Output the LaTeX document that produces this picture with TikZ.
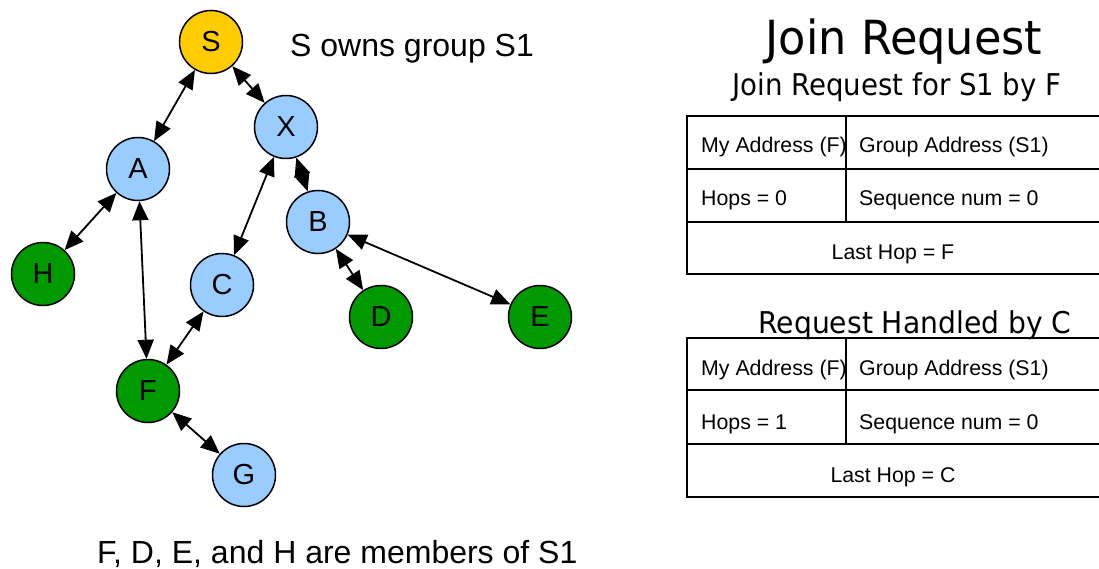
\documentclass[tikz,border=0pt]{standalone}
\usepackage{fontspec}
\setmainfont{Liberation Sans}
\newfontfamily\dejavu{DejaVu Sans}
\usetikzlibrary{arrows.meta}
\definecolor{syellow}{HTML}{FFCC00}
\definecolor{nblue}{HTML}{99CCFF}
\definecolor{ngreen}{HTML}{009900}
\tikzset{
  gnode/.style={circle, draw=black, line width=1.5pt, minimum size=63pt, inner sep=0pt,
    font=\fontsize{29}{33}\selectfont},
  owner/.style={gnode, fill=syellow},
  relay/.style={gnode, fill=nblue},
  member/.style={gnode, fill=ngreen},
  tip/.tip={Triangle[length=19pt,width=16pt]},
  link/.style={line width=1.8pt, tip-tip},
  cell/.style={line width=1.5pt},
  celltext/.style={anchor=base west, inner sep=0pt, font=\fontsize{21.3}{25}\selectfont},
  bigtext/.style={anchor=base west, inner sep=0pt, font=\fontsize{32}{38}\selectfont},
  title/.style={anchor=base, inner sep=0pt, font=\dejavu\fontsize{47}{54}\selectfont},
  subtitle/.style={anchor=base, inner sep=0pt, font=\dejavu\fontsize{30}{36}\selectfont},
}
\begin{document}
\begin{tikzpicture}[x=1pt,y=-1pt]
\useasboundingbox (0,0) rectangle (1099,569);
% nodes
\node[owner]  (S) at (211,42)  {S};
\node[relay]  (X) at (286,127) {X};
\node[relay]  (A) at (138,169) {A};
\node[relay]  (B) at (318,222) {B};
\node[member] (H) at (43,274)  {H};
\node[relay]  (C) at (222,285) {C};
\node[member] (D) at (381,317) {D};
\node[member] (E) at (540,317) {E};
\node[member] (F) at (148,391) {F};
\node[relay]  (G) at (244,475) {G};
% links
\draw[link] (S) -- (A);
\draw[link] (S) -- (X);
\draw[link] (X) -- (C);
\draw[link] (X) -- (B);
\draw[link] (A) -- (H);
\draw[link] (A) -- (F);
\draw[link] (C) -- (F);
\draw[link] (F) -- (G);
\draw[link] (B) -- (D);
\draw[link] (B) -- (E);
% texts
\node[bigtext] (owns) at (290,57) {S owns group S1};
\node[bigtext] (members) at (97,563) {F, D, E, and H are members of S1};
\node[title] (t1) at (904,55) {\scalebox{0.95}[1]{Join Request}};
\node[subtitle] (t2) at (897,96) {\scalebox{0.92}[1]{Join Request for S1 by F}};
\node[subtitle] (t3) at (915,333) {\scalebox{0.94}[1]{Request Handled by C}};
% table 1
\draw[cell] (687,116) rectangle (1102,274);
\draw[cell] (687,169) -- (1102,169);
\draw[cell] (687,222) -- (1102,222);
\draw[cell] (846,116) -- (846,222);
\node[celltext] (r1a) at (701,153) {My Address (F)};
\node[celltext] (r1b) at (859,153) {Group Address (S1)};
\node[celltext] (r1c) at (701,206) {Hops = 0};
\node[celltext] (r1d) at (859,206) {Sequence num = 0};
\node[celltext, anchor=base] (r1e) at (893,259) {Last Hop = F};
% table 2
\draw[cell] (687,338) rectangle (1102,497);
\draw[cell] (687,390) -- (1102,390);
\draw[cell] (687,444) -- (1102,444);
\draw[cell] (846,338) -- (846,444);
\node[celltext] (r2a) at (701,375) {My Address (F)};
\node[celltext] (r2b) at (859,375) {Group Address (S1)};
\node[celltext] (r2c) at (701,429) {Hops = 1};
\node[celltext] (r2d) at (859,429) {Sequence num = 0};
\node[celltext, anchor=base] (r2e) at (893,482) {Last Hop = C};
\end{tikzpicture}
\end{document}
